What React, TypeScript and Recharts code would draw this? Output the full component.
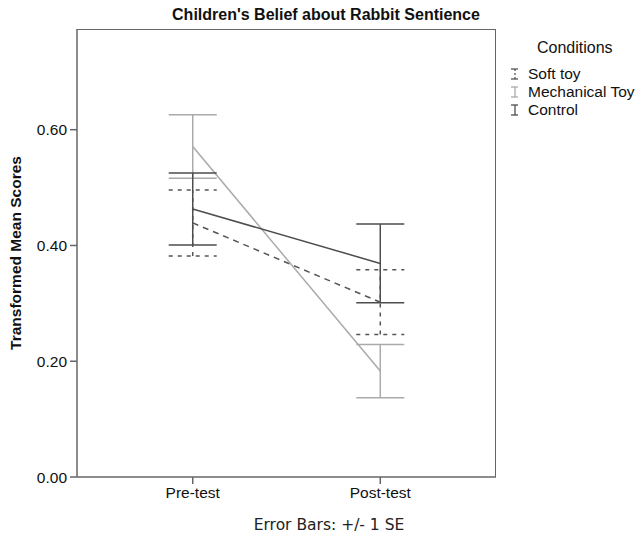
import React from 'react';
import { ComposedChart, Line, XAxis, YAxis, ErrorBar } from 'recharts';

const categories = ['Pre-test', 'Post-test'];
const xPositions = [1, 2];
const softToyMean = [0.439, 0.302];
const softToySE = [0.057, 0.056];
const mechanicalMean = [0.571, 0.183];
const mechanicalSE = [0.055, 0.046];
const controlMean = [0.463, 0.369];
const controlSE = [0.062, 0.068];
const yTicks = [0, 0.2, 0.4, 0.6];

const data = xPositions.map((x, i) => ({
  x,
  label: categories[i],
  soft: softToyMean[i],
  softErr: softToySE[i],
  mech: mechanicalMean[i],
  mechErr: mechanicalSE[i],
  control: controlMean[i],
  controlErr: controlSE[i],
}));

const CONTROL = '#4d4d4d';
const MECH = '#aaaaaa';
const SOFT = '#555555';
const AXIS = '#666666';
const FONT = '"Liberation Sans", Arial, sans-serif';

const legendItems = [
  { name: 'Soft toy', color: SOFT, dash: '2 2' },
  { name: 'Mechanical Toy', color: MECH, dash: undefined },
  { name: 'Control', color: CONTROL, dash: undefined },
];

const LegendBox = () => (
  <div
    style={{
      position: 'absolute',
      left: 506,
      top: 39,
      fontFamily: FONT,
      fontSize: 15.5,
      color: '#111',
      lineHeight: '18px',
    }}
  >
    <div style={{ paddingLeft: 31, marginBottom: 8, fontSize: 16 }}>Conditions</div>
    {legendItems.map((it) => (
      <div key={it.name} style={{ display: 'flex', alignItems: 'center', height: 18 }}>
        <svg width={18} height={14} style={{ marginRight: 4 }}>
          <line x1={9} y1={2} x2={9} y2={12} stroke={it.color} strokeWidth={1.3} strokeDasharray={it.dash} />
          <line x1={5} y1={2} x2={12} y2={2} stroke={it.color} strokeWidth={1.3} />
          <line x1={5} y1={12} x2={12} y2={12} stroke={it.color} strokeWidth={1.3} />
        </svg>
        <span>{it.name}</span>
      </div>
    ))}
  </div>
);

export default function App() {
  return (
    <div style={{ position: 'absolute', left: 0, top: 0, width: 644, height: 534, background: '#fff' }}>
      <div
        style={{
          position: 'absolute',
          left: 0,
          width: 652,
          top: 6,
          textAlign: 'center',
          fontFamily: FONT,
          fontWeight: 'bold',
          fontSize: 16,
          color: '#111',
        }}
      >
        Children's Belief about Rabbit Sentience
      </div>
      <div
        style={{
          position: 'absolute',
          left: 0,
          width: 658,
          top: 516,
          textAlign: 'center',
          fontFamily: '"DejaVu Sans", sans-serif',
          fontSize: 15.5,
          color: '#222',
        }}
      >
        Error Bars: +/- 1 SE
      </div>
      <div
        style={{
          position: 'absolute',
          left: 77,
          top: 29,
          width: 419,
          height: 448,
          borderTop: `1.5px solid ${AXIS}`,
          borderRight: `1.5px solid ${AXIS}`,
          boxSizing: 'border-box',
        }}
      />
      <LegendBox />
      <ComposedChart
        width={644}
        height={534}
        data={data}
        margin={{ top: 29, right: 148, left: 0, bottom: 27 }}
        style={{ position: 'absolute', left: 0, top: 0 }}
      >
        <XAxis
          dataKey="x"
          type="number"
          domain={[0.383, 2.617]}
          ticks={xPositions}
          tickFormatter={(v: number) => categories[xPositions.indexOf(v)] ?? ''}
          stroke={AXIS}
          strokeWidth={1.5}
          tickSize={7}
          tickMargin={3}
          height={30}
          tick={{ fill: '#111', fontSize: 15.5, fontFamily: FONT }}
          allowDataOverflow
        />
        <YAxis
          type="number"
          domain={[0, 0.774]}
          ticks={yTicks}
          tickFormatter={(v: number) => v.toFixed(2)}
          stroke={AXIS}
          strokeWidth={1.5}
          width={77}
          tickSize={7}
          tickMargin={3}
          allowDataOverflow
          tick={{ fill: '#111', fontSize: 15.5, fontFamily: FONT }}
          label={{
            value: 'Transformed Mean Scores',
            angle: -90,
            position: 'insideLeft',
            offset: 15,
            style: { textAnchor: 'middle', fontWeight: 'bold', fontSize: 15.5, fontFamily: FONT, fill: '#111' },
          }}
        />
        <Line
          dataKey="soft"
          name="Soft toy"
          stroke={SOFT}
          strokeWidth={1.5}
          strokeDasharray="6 5"
          dot={false}
          activeDot={false}
          isAnimationActive={false}
        >
          <ErrorBar dataKey="softErr" width={24} stroke={SOFT} strokeWidth={1.5} strokeDasharray="4 5" direction="y" />
        </Line>
        <Line
          dataKey="mech"
          name="Mechanical Toy"
          stroke={MECH}
          strokeWidth={1.5}
          dot={false}
          activeDot={false}
          isAnimationActive={false}
        >
          <ErrorBar dataKey="mechErr" width={24} stroke={MECH} strokeWidth={1.5} direction="y" />
        </Line>
        <Line
          dataKey="control"
          name="Control"
          stroke={CONTROL}
          strokeWidth={1.5}
          dot={false}
          activeDot={false}
          isAnimationActive={false}
        >
          <ErrorBar dataKey="controlErr" width={24} stroke={CONTROL} strokeWidth={1.5} direction="y" />
        </Line>
      </ComposedChart>
    </div>
  );
}
